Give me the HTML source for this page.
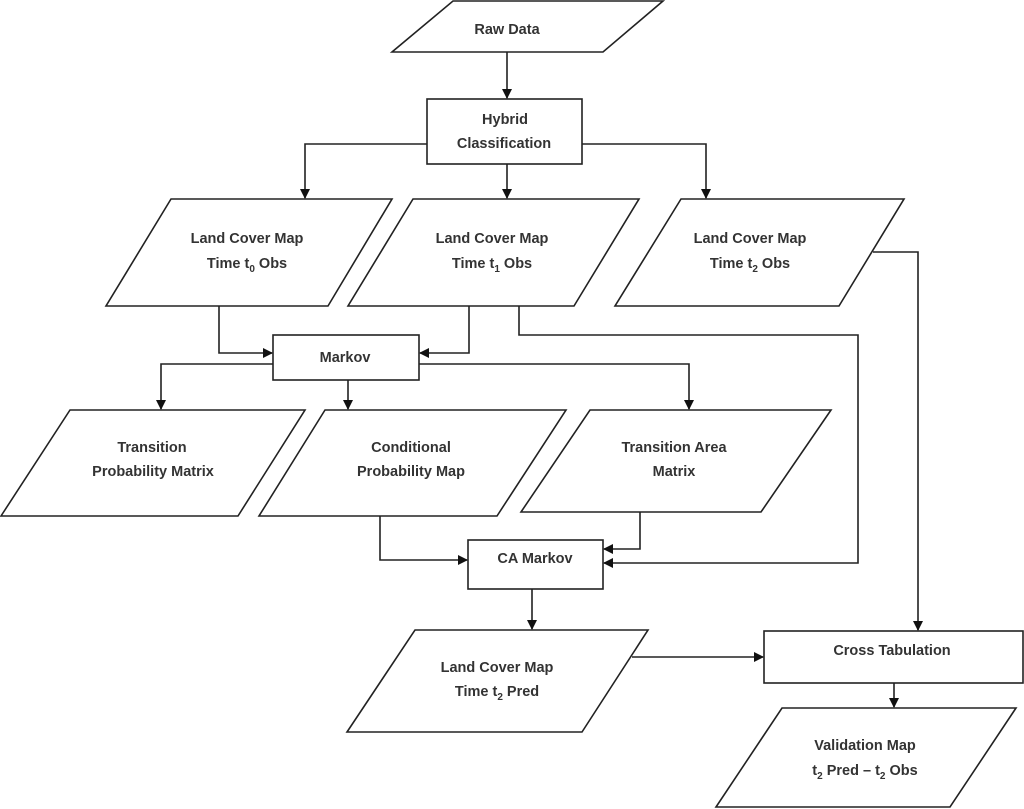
<!DOCTYPE html>
<html><head><meta charset="utf-8"><style>
html,body{margin:0;padding:0;background:#fff;}
svg{display:block;}
text{font-family:"Liberation Sans",sans-serif;font-size:14.5px;font-weight:bold;fill:#333;text-anchor:middle;}
.s{stroke:#222;stroke-width:1.6;fill:none;}
.b{stroke:#222;stroke-width:1.6;fill:#fff;}
</style></head><body>
<svg width="1024" height="809" viewBox="0 0 1024 809" xmlns="http://www.w3.org/2000/svg">
<defs><marker id="a" markerWidth="10" markerHeight="10" refX="9" refY="5" orient="auto" markerUnits="userSpaceOnUse"><path d="M0,0 L10,5 L0,10 z" fill="#111"/></marker></defs>

<polygon class="b" points="453,1 663,1 603,52 392,52"/>
<rect class="b" x="427" y="99" width="155" height="65"/>
<polygon class="b" points="171,199 392,199 328,306 106,306"/>
<polygon class="b" points="413,199 639,199 574,306 348,306"/>
<polygon class="b" points="681,199 904,199 839,306 615,306"/>
<rect class="b" x="273" y="335" width="146" height="45"/>
<polygon class="b" points="70,410 305,410 238,516 1,516"/>
<polygon class="b" points="325,410 566,410 497,516 259,516"/>
<polygon class="b" points="590,410 831,410 761,512 521,512"/>
<rect class="b" x="468" y="540" width="135" height="49"/>
<polygon class="b" points="415,630 648,630 582,732 347,732"/>
<rect class="b" x="764" y="631" width="259" height="52"/>
<polygon class="b" points="782,708 1016,708 950,807 716,807"/>

<path class="s" d="M507,52 V98" marker-end="url(#a)"/>
<path class="s" d="M427,144 H305 V198" marker-end="url(#a)"/>
<path class="s" d="M582,144 H706 V198" marker-end="url(#a)"/>
<path class="s" d="M507,164 V198" marker-end="url(#a)"/>
<path class="s" d="M219,306 V353 H272" marker-end="url(#a)"/>
<path class="s" d="M469,306 V353 H420" marker-end="url(#a)"/>
<path class="s" d="M519,306 V335 H858 V563 H604" marker-end="url(#a)"/>
<path class="s" d="M873,252 H918 V630" marker-end="url(#a)"/>
<path class="s" d="M273,364 H161 V409" marker-end="url(#a)"/>
<path class="s" d="M419,364 H689 V409" marker-end="url(#a)"/>
<path class="s" d="M348,380 V409" marker-end="url(#a)"/>
<path class="s" d="M380,516 V560 H467" marker-end="url(#a)"/>
<path class="s" d="M640,512 V549 H604" marker-end="url(#a)"/>
<path class="s" d="M532,589 V629" marker-end="url(#a)"/>
<path class="s" d="M632,657 H763" marker-end="url(#a)"/>
<path class="s" d="M894,683 V707" marker-end="url(#a)"/>

<text x="507" y="34">Raw Data</text>
<text x="505" y="124">Hybrid</text>
<text x="504" y="148">Classification</text>
<text x="247" y="243">Land Cover Map</text>
<text x="247" y="268">Time t<tspan font-size="10" dy="4">0</tspan><tspan dy="-4"> Obs</tspan></text>
<text x="492" y="243">Land Cover Map</text>
<text x="492" y="268">Time t<tspan font-size="10" dy="4">1</tspan><tspan dy="-4"> Obs</tspan></text>
<text x="750" y="243">Land Cover Map</text>
<text x="750" y="268">Time t<tspan font-size="10" dy="4">2</tspan><tspan dy="-4"> Obs</tspan></text>
<text x="345" y="362">Markov</text>
<text x="152" y="452">Transition</text>
<text x="153" y="476">Probability Matrix</text>
<text x="411" y="452">Conditional</text>
<text x="411" y="476">Probability  Map</text>
<text x="674" y="452">Transition Area</text>
<text x="674" y="476">Matrix</text>
<text x="535" y="563">CA Markov</text>
<text x="497" y="672">Land Cover Map</text>
<text x="497" y="696">Time t<tspan font-size="10" dy="4">2</tspan><tspan dy="-4"> Pred</tspan></text>
<text x="892" y="655">Cross Tabulation</text>
<text x="865" y="750">Validation Map</text>
<text x="865" y="775">t<tspan font-size="10" dy="4">2</tspan><tspan dy="-4"> Pred – t</tspan><tspan font-size="10" dy="4">2</tspan><tspan dy="-4"> Obs</tspan></text>
</svg>
</body></html>
